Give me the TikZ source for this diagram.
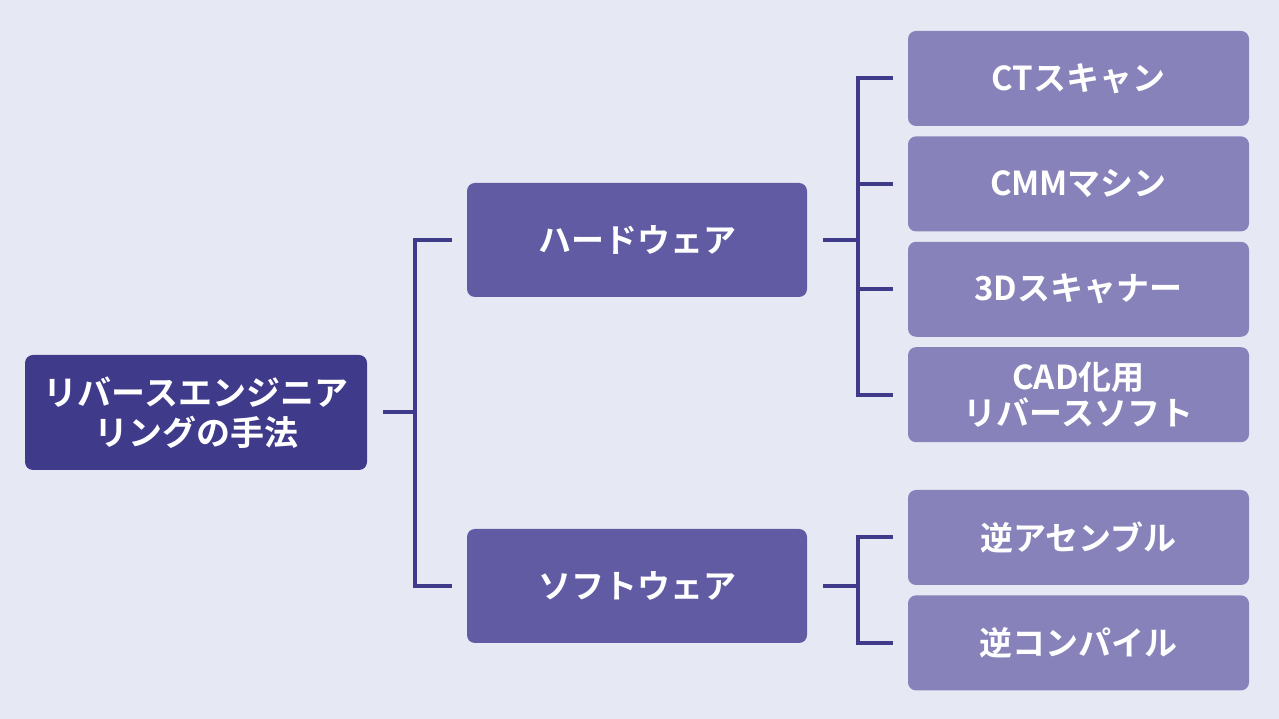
\documentclass[tikz,border=0pt]{standalone}
\usepackage{fontspec}
\setmainfont{Noto Sans CJK JP}[BoldFont={* Bold}]
\usetikzlibrary{positioning}
\definecolor{bg}{HTML}{E6E9F3}
\definecolor{rootc}{HTML}{3F3A8A}
\definecolor{midc}{HTML}{605BA3}
\definecolor{leafc}{HTML}{8783BA}
\begin{document}
\begin{tikzpicture}[x=1pt,y=1pt,
		box/.style={rectangle, rounded corners=8pt, text=white, font=\bfseries\fontsize{33}{38}\selectfont, align=center, inner sep=0pt},
		root/.style={box, fill=rootc, minimum width=342pt, minimum height=115pt, font=\bfseries\fontsize{34}{40}\selectfont},
		mid/.style={box, fill=midc, minimum width=340pt, minimum height=114pt},
		leaf/.style={box, fill=leafc, minimum width=341pt, minimum height=95pt},
		conn/.style={draw=rootc, line width=4pt}
	]
	\fill[bg] (0,0) rectangle (1279,719);
	\useasboundingbox (0,0) rectangle (1279,719);
	\node[root] (root) at (196,306.5) {リバースエンジニア\\リングの手法};
	\node[mid] (hw) at (637,479) {ハードウェア};
	\node[mid] (sw) at (637,133) {ソフトウェア};
	\node[leaf] (ct) at (1078.5,640.5) {CTスキャン};
	\node[leaf] (cmm) [below=10pt of ct] {CMMマシン};
	\node[leaf] (scan) [below=10pt of cmm] {3Dスキャナー};
	\node[leaf, font=\bfseries\fontsize{33}{36}\selectfont] (cad) [below=10pt of scan] {CAD化用\\リバースソフト};
	\node[leaf] (asm) at (1078.5,181.5) {逆アセンブル};
	\node[leaf] (comp) [below=10pt of asm] {逆コンパイル};
	% root bracket
	\coordinate (rj) at ([xshift=48pt]root.east);
	\draw[conn] ([xshift=16pt]root.east) -- (rj);
	\draw[conn] ([xshift=-15pt]hw.west) -| (rj) |- ([xshift=-15pt]sw.west);
	% hardware bracket
	\coordinate (hj) at ([xshift=51pt]hw.east);
	\draw[conn] ([xshift=16pt]hw.east) -- (hj);
	\draw[conn] ([xshift=-15pt]ct.west) -| (hj) |- ([xshift=-15pt]cad.west);
	\foreach \n in {cmm,scan}
		\draw[conn] (hj |- \n.west) -- ([xshift=-15pt]\n.west);
	% software bracket
	\coordinate (sj) at ([xshift=51pt]sw.east);
	\draw[conn] ([xshift=16pt]sw.east) -- (sj);
	\draw[conn] ([xshift=-15pt]asm.west) -| (sj) |- ([xshift=-15pt]comp.west);
\end{tikzpicture}
\end{document}
